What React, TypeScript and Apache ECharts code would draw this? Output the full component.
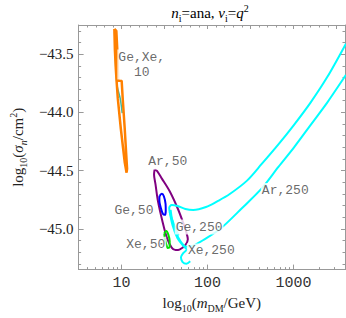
import React, { useEffect, useRef } from 'react';
import * as echarts from 'echarts';

// ---- data (x: log10(m_DM/GeV), y: log10(sigma_n/cm^2)) ----
const geXe10LogMass = [0.916, 0.939, 0.950, 0.956, 0.962, 1.001, 1.013, 1.036, 1.064, 1.058, 1.036, 0.990, 0.956, 0.944, 0.933, 0.922, 0.916];
const geXe10LogSigma = [-43.284, -43.300, -43.460, -43.628, -43.729, -43.729, -43.880, -44.132, -44.485, -44.518, -44.426, -44.132, -43.880, -43.754, -43.628, -43.460, -43.284];

const ge10LogMass = [0.919, 0.925, 0.933, 0.950, 0.984, 1.007];
const ge10LogSigma = [-43.309, -43.460, -43.628, -43.779, -43.880, -44.006];

const ar50LogMass = [1.384, 1.412, 1.469, 1.560, 1.651, 1.708, 1.754, 1.771, 1.742, 1.674, 1.628, 1.583, 1.526, 1.474, 1.423, 1.395, 1.378, 1.384];
const ar50LogSigma = [-44.489, -44.502, -44.569, -44.678, -44.821, -44.930, -45.031, -45.090, -45.140, -45.178, -45.182, -45.161, -45.073, -44.930, -44.762, -44.619, -44.535, -44.489];

const ge50LogMass = [1.446, 1.469, 1.492, 1.512, 1.514, 1.503, 1.480, 1.457, 1.440, 1.440, 1.446];
const ge50LogSigma = [-44.712, -44.699, -44.720, -44.787, -44.846, -44.880, -44.871, -44.821, -44.762, -44.728, -44.712];

const xe50LogMass = [1.497, 1.520, 1.543, 1.560, 1.558, 1.537, 1.520, 1.503, 1.497];
const xe50LogSigma = [-45.039, -45.018, -45.048, -45.106, -45.157, -45.165, -45.132, -45.081, -45.039];

const ar250LogMass = [1.663, 1.606, 1.566, 1.554, 1.583, 1.651, 1.742, 1.833, 1.982, 2.118, 2.255, 2.460, 2.631, 2.825, 3.007, 3.201, 3.395, 3.611];
const ar250LogSigma = [-45.056, -44.955, -44.871, -44.821, -44.796, -44.804, -44.829, -44.838, -44.813, -44.762, -44.703, -44.586, -44.443, -44.275, -44.107, -43.914, -43.695, -43.410];

const ge250LogMass = [1.571, 1.588, 1.628, 1.685, 1.754, 1.833, 1.947, 2.153, 2.403, 2.631, 2.825, 3.007, 3.201, 3.395, 3.611];
const ge250LogSigma = [-44.838, -44.922, -45.022, -45.106, -45.153, -45.144, -45.098, -44.997, -44.821, -44.653, -44.468, -44.300, -44.107, -43.914, -43.678];

const xe250LogMass = [1.560, 1.594, 1.651, 1.720, 1.759, 1.720, 1.691, 1.708, 1.754, 1.799];
const xe250LogSigma = [-44.854, -44.972, -45.081, -45.148, -45.178, -45.207, -45.245, -45.283, -45.300, -45.279];

const labelTexts = ['Ge,Xe,\n10', 'Ar,50', 'Ge,50', 'Xe,50', 'Ge,250', 'Xe,250', 'Ar,250'];
const labelLogMass = [1.235, 1.537, 1.144, 1.281, 1.902, 2.044, 2.905];
const labelLogSigma = [-43.590, -44.426, -44.846, -45.132, -44.985, -45.190, -44.670];

// ---- ticks ----
const xLabelTicks = [1, 2, 3];
const xMinorMasses = [4, 5, 6, 7, 8, 9, 20, 30, 40, 50, 60, 70, 80, 90, 200, 300, 400, 500, 600, 700, 800, 900, 2000, 3000];
const xTopMajor = [1, 1.5, 2, 2.5, 3, 3.5];
const xTopMinor = [0.6, 0.7, 0.8, 0.9, 1.1, 1.2, 1.3, 1.4, 1.6, 1.7, 1.8, 1.9, 2.1, 2.2, 2.3, 2.4, 2.6, 2.7, 2.8, 2.9, 3.1, 3.2, 3.3, 3.4];
const yMajorTicks = [-45, -44.5, -44, -43.5];
const yMinorTicks = [-45.3, -45.2, -45.1, -44.9, -44.8, -44.7, -44.6, -44.4, -44.3, -44.2, -44.1, -43.9, -43.8, -43.7, -43.6, -43.4, -43.3];

const X_MIN = 0.5, X_MAX = 3.6, Y_MIN = -45.35, Y_MAX = -43.25;

const zip = (xs: number[], ys: number[]) => xs.map((x, i) => [x, ys[i]]);

export default function App() {
  const ref = useRef<HTMLDivElement>(null);
  useEffect(() => {
    if (!ref.current) return;
    const chart = echarts.init(ref.current, undefined, { renderer: 'svg' });
    const frame = '#999999';
    const serif = '"Liberation Serif", "DejaVu Serif", serif';
    const mono = '"Courier New", "Liberation Mono", monospace';
    const textColor = '#222';
    const tickStyle = { color: frame, width: 1 };
    const richName = {
      base: { fontFamily: serif, fontSize: 15, color: textColor, lineHeight: 20 },
      it: { fontFamily: serif, fontSize: 15, fontStyle: 'italic', color: textColor, lineHeight: 20 },
      sub: { fontFamily: serif, fontSize: 10, color: textColor, lineHeight: 13, verticalAlign: 'bottom' },
      subit: { fontFamily: serif, fontSize: 10, fontStyle: 'italic', color: textColor, lineHeight: 13, verticalAlign: 'bottom' },
      sup: { fontFamily: serif, fontSize: 10, color: textColor, lineHeight: 13, verticalAlign: 'top' },
    };
    const hiddenAxisBase = {
      type: 'value' as const, min: X_MIN, max: X_MAX, splitLine: { show: false },
      axisLabel: { show: false },
    };
    const lineSeries = (xs: number[], ys: number[], color: string, width: number, z: number, smooth: number) => ({
      type: 'line', data: zip(xs, ys), showSymbol: false, symbol: 'none', smooth,
      lineStyle: { color, width }, z, silent: true, xAxisIndex: 0, yAxisIndex: 0,
    });
    chart.setOption({
      animation: false,
      backgroundColor: '#ffffff',
      grid: { left: 73, top: 25, width: 272, height: 250, containLabel: false },
      xAxis: [
        {
          type: 'value', position: 'bottom', min: X_MIN, max: X_MAX,
          splitLine: { show: false },
          axisLine: { show: true, lineStyle: { color: frame } },
          axisTick: { show: true, inside: true, length: 5, customValues: xLabelTicks, lineStyle: tickStyle },
          axisLabel: {
            customValues: xLabelTicks, formatter: (v: number) => String(Math.round(Math.pow(10, v))),
            fontFamily: mono, fontSize: 15, color: '#333', margin: 6,
          },
          name: '{base|log}{sub|10}{base|(}{it|m}{sub|DM}{base|/GeV)}',
          nameLocation: 'middle', nameGap: 18,
          nameTextStyle: { rich: richName },
        },
        {
          ...hiddenAxisBase, position: 'bottom',
          axisLine: { show: false },
          axisTick: { show: true, inside: true, length: 2.5, customValues: xMinorMasses.map((m) => Math.log10(m)), lineStyle: tickStyle },
        },
        {
          ...hiddenAxisBase, position: 'top',
          axisLine: { show: true, lineStyle: { color: frame } },
          axisTick: { show: true, inside: true, length: 4, customValues: xTopMajor, lineStyle: tickStyle },
        },
        {
          ...hiddenAxisBase, position: 'top',
          axisLine: { show: false },
          axisTick: { show: true, inside: true, length: 2.5, customValues: xTopMinor, lineStyle: tickStyle },
        },
      ],
      yAxis: [
        {
          type: 'value', position: 'left', min: Y_MIN, max: Y_MAX,
          splitLine: { show: false },
          axisLine: { show: true, lineStyle: { color: frame } },
          axisTick: { show: true, inside: true, length: 5, customValues: yMajorTicks, lineStyle: tickStyle },
          axisLabel: {
            customValues: yMajorTicks, formatter: (v: number) => v.toFixed(1).replace('-', '\u2212'),
            fontFamily: serif, fontSize: 15, color: textColor, margin: 5,
          },
          name: '{base|log}{sub|10}{base|(}{it|σ}{subit|n}{base|/cm}{sup|2}{base|)}',
          nameLocation: 'middle', nameGap: 50,
          nameTextStyle: { rich: richName },
        },
        {
          type: 'value', position: 'left', min: Y_MIN, max: Y_MAX, splitLine: { show: false },
          axisLabel: { show: false }, axisLine: { show: false },
          axisTick: { show: true, inside: true, length: 2.5, customValues: yMinorTicks, lineStyle: tickStyle },
        },
        {
          type: 'value', position: 'right', min: Y_MIN, max: Y_MAX, splitLine: { show: false },
          axisLabel: { show: false }, axisLine: { show: true, lineStyle: { color: frame } },
          axisTick: { show: true, inside: true, length: 4, customValues: yMajorTicks, lineStyle: tickStyle },
        },
        {
          type: 'value', position: 'right', min: Y_MIN, max: Y_MAX, splitLine: { show: false },
          axisLabel: { show: false }, axisLine: { show: false },
          axisTick: { show: true, inside: true, length: 2.5, customValues: yMinorTicks, lineStyle: tickStyle },
        },
      ],
      graphic: [
        {
          type: 'text', x: 210, y: 13, silent: true,
          style: {
            text: '{it|n}{sub|i}{base|=ana, }{it|ν}{sub|i}{base|=}{it|q}{sup|2}',
            rich: richName, align: 'center', verticalAlign: 'middle',
            textAlign: 'center', textVerticalAlign: 'middle',
          },
        },
      ],
      series: [
        lineSeries(ge10LogMass, ge10LogSigma, '#3fb8a0', 1.5, 2, 0.3),
        lineSeries(geXe10LogMass, geXe10LogSigma, '#ff8000', 2.5, 3, 0),
        lineSeries(ar50LogMass, ar50LogSigma, '#800080', 2, 3, 0.3),
        lineSeries(ge50LogMass, ge50LogSigma, '#0000ff', 2, 4, 0.3),
        lineSeries(xe50LogMass, xe50LogSigma, '#00e000', 2, 4, 0.3),
        lineSeries(ar250LogMass, ar250LogSigma, '#00ffff', 2, 5, 0.3),
        lineSeries(ge250LogMass, ge250LogSigma, '#00ffff', 2, 5, 0.3),
        lineSeries(xe250LogMass, xe250LogSigma, '#00ffff', 2, 5, 0.3),
        {
          type: 'scatter', xAxisIndex: 0, yAxisIndex: 0, symbolSize: 0, silent: true, z: 10,
          data: labelTexts.map((t, i) => ({ name: t, value: [labelLogMass[i], labelLogSigma[i]] })),
          label: {
            show: true, position: 'inside', formatter: '{b}', fontFamily: mono, fontSize: 13,
            color: '#444', backgroundColor: '#ffffff', padding: [0, 1], lineHeight: 15, align: 'center',
          },
        },
      ],
    });
    return () => chart.dispose();
  }, []);
  return (
    <div
      ref={ref}
      style={{ position: 'absolute', left: 0, top: 0, width: 346, height: 318, background: '#fff' }}
    />
  );
}
